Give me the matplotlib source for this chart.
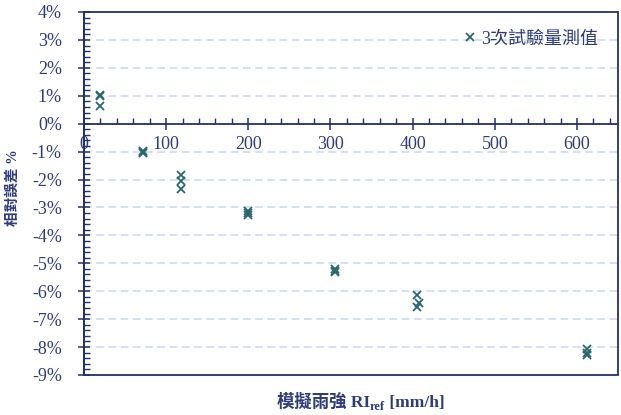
import matplotlib.pyplot as plt
import matplotlib
from matplotlib.ticker import MultipleLocator, FuncFormatter
from matplotlib.patches import Rectangle

matplotlib.rcParams['axes.unicode_minus'] = False
fonts = ['Liberation Serif', 'Noto Sans CJK TC']
matplotlib.rcParams['font.family'] = fonts

# rain intensity of each test group [mm/h]
ri_ref = [20, 72, 118, 200, 305, 405, 612]
ri_ref_2 = [20, 72, 118, 200, 305, 408, 612]
# relative error of the 3 repeated tests [%]
trial1 = [1.02, -0.98, -1.85, -3.12, -5.22, -6.13, -8.07]
trial2 = [0.98, -1.02, -2.05, -3.20, -5.27, -6.42, -8.20]
trial3 = [0.65, -1.05, -2.35, -3.26, -5.30, -6.57, -8.28]

navy = '#23306e'
txt = '#2e3c7c'
mk = '#2a6870'
grid = '#c6d9f0'

fig = plt.figure(figsize=(6.21, 4.15), dpi=100)
ax = fig.add_axes([0.1353, 0.0964, 0.8599, 0.8747])

series = [(ri_ref, trial1, '3次試驗量測值'), (ri_ref_2, trial2, None), (ri_ref, trial3, None)]
for xs, ys, lab in series:
    ax.plot(xs, ys, 'x', color=mk, ms=5.5, mew=1.3, label=lab, zorder=3)

ax.set_xlim(0, 650)
ax.set_ylim(-9, 4)

for v in range(-8, 4):
    if v != 0:
        ax.axhline(v, color=grid, lw=1.1, ls=(0, (5, 3)), zorder=1)

for s in ['top', 'right', 'left', 'bottom']:
    ax.spines[s].set_color(navy)
    ax.spines[s].set_linewidth(1.3)
ax.spines['top'].set_visible(False)
ax.spines['right'].set_visible(False)
ax.spines['bottom'].set_position(('data', 0))
ax.add_patch(Rectangle((0, 0), 1, 1, transform=ax.transAxes, fill=False,
                       ec=navy, lw=1.3, clip_on=False, zorder=4))

ax.xaxis.set_major_locator(MultipleLocator(100))
ax.xaxis.set_minor_locator(MultipleLocator(20))
ax.yaxis.set_major_locator(MultipleLocator(1))
ax.yaxis.set_minor_locator(MultipleLocator(0.2))
ax.yaxis.set_major_formatter(FuncFormatter(lambda v, p: '%d%%' % round(v)))

ax.tick_params(axis='both', which='major', color=navy, labelcolor=txt,
               labelsize=13, direction='inout', length=8, width=1.1)
ax.tick_params(axis='both', which='minor', color=navy, direction='in',
               length=4, width=1.0)
ax.tick_params(axis='x', which='major', pad=5)
ax.tick_params(axis='y', which='major', pad=12)

ax.set_ylabel('相對誤差 %', fontsize=10.5, fontweight='bold', color=txt)
ax.yaxis.set_label_coords(-0.12, 0.515)

# x label: main text + subscript + unit, on one baseline below the frame
base = 1 - 407 / 415
t1 = fig.text(277 / 621, base, '模擬雨強 RI', fontsize=12.5,
              fontweight='bold', color=txt, ha='left', va='baseline')
t2 = fig.text(0, base - 3 / 415, 'ref', fontsize=9, fontweight='bold',
              color=txt, va='baseline')
t3 = fig.text(0, base, ' [mm/h]', fontsize=12.5, fontweight='bold',
              color=txt, va='baseline')
fig.canvas.draw()
r = fig.canvas.get_renderer()
inv = fig.transFigure.inverted()
x1 = inv.transform((t1.get_window_extent(r).x1, 0))[0]
t2.set_x(x1)
x2 = inv.transform((t2.get_window_extent(r).x1, 0))[0]
t3.set_x(x2)

ax.legend(loc='center right', bbox_to_anchor=(0.963, 0.926), frameon=False,
          borderpad=0, borderaxespad=0, handlelength=0.6, handletextpad=0.3,
          prop={'family': fonts, 'size': 13}, labelcolor=txt)

fig.savefig('out.png', dpi=100)
